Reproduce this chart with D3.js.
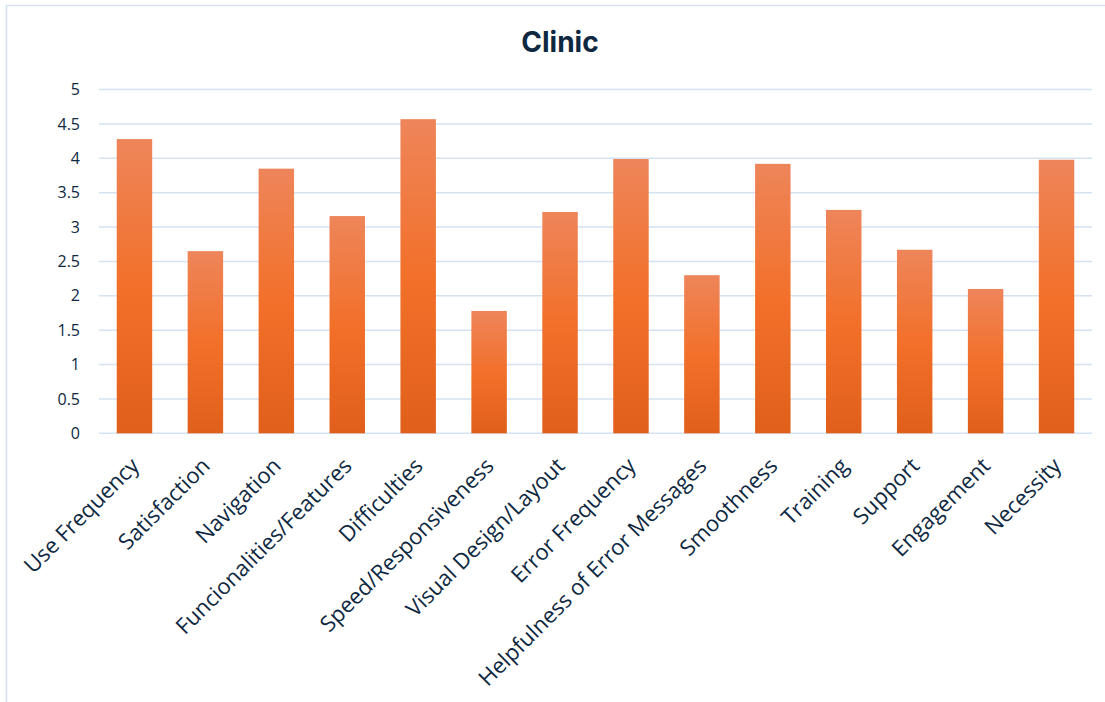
<!DOCTYPE html>
<html>
<head>
<meta charset="utf-8">
<script src="https://cdn.jsdelivr.net/npm/d3@7"></script>
<style>
  html, body { margin: 0; padding: 0; background: #fff; }
  svg { display: block; }
</style>
</head>
<body>
<svg id="chart" width="1105" height="702"></svg>
<script>
const categories = ["Use Frequency", "Satisfaction", "Navigation", "Funcionalities/Features", "Difficulties",
  "Speed/Responsiveness", "Visual Design/Layout", "Error Frequency", "Helpfulness of Error Messages",
  "Smoothness", "Training", "Support", "Engagement", "Necessity"];
const values = [4.28, 2.65, 3.85, 3.16, 4.57, 1.78, 3.22, 3.99, 2.30, 3.92, 3.25, 2.67, 2.10, 3.98];
const yTicks = [0, 0.5, 1, 1.5, 2, 2.5, 3, 3.5, 4, 4.5, 5];
const title = "Clinic";

const svg = d3.select("#chart");
const m = { left: 99, right: 1092, top: 89.6, bottom: 433.3 };
const textColor = "#0e2841";

// chart frame (only top & left visible in reference)
svg.append("rect").attr("x", 6.5).attr("y", 5.5).attr("width", 1110).attr("height", 710)
  .attr("fill", "#fff").attr("stroke", "#d6e2f0").attr("stroke-width", 1.5);

const defs = svg.append("defs");
const grad = defs.append("linearGradient").attr("id", "barGrad")
  .attr("x1", 0).attr("y1", 0).attr("x2", 0).attr("y2", 1);
grad.append("stop").attr("offset", "0%").attr("stop-color", "#ee855a");
grad.append("stop").attr("offset", "50%").attr("stop-color", "#f2702a");
grad.append("stop").attr("offset", "100%").attr("stop-color", "#e05f1a");

const x = d3.scaleBand().domain(categories).range([m.left, m.right]).paddingInner(0.5).paddingOuter(0.25);
const y = d3.scaleLinear().domain([0, 5]).range([m.bottom, m.top]);

// gridlines
svg.append("g").selectAll("line").data(yTicks).join("line")
  .attr("x1", m.left).attr("x2", m.right)
  .attr("y1", d => y(d)).attr("y2", d => y(d))
  .attr("stroke", "#d4e2f2").attr("stroke-width", 1.5);

// y axis labels
const yAxis = d3.axisLeft(y).tickValues(yTicks).tickSize(0).tickPadding(19).tickFormat(d => String(d));
const gy = svg.append("g").attr("transform", `translate(${m.left},0)`).call(yAxis);
gy.select(".domain").remove();
gy.selectAll("text").attr("fill", textColor).attr("font-family", "'Open Sans', sans-serif").attr("font-size", 16);

// bars
svg.append("g").selectAll("rect").data(values).join("rect")
  .attr("x", (d, i) => x(categories[i]))
  .attr("width", x.bandwidth())
  .attr("y", d => y(d))
  .attr("height", d => y(0) - y(d))
  .attr("fill", "url(#barGrad)");

// x axis labels
const xAxis = d3.axisBottom(x).tickSize(0).tickPadding(0);
const gx = svg.append("g").attr("transform", `translate(0,${m.bottom})`).call(xAxis);
gx.select(".domain").remove();
gx.selectAll(".tick text")
  .attr("fill", textColor).attr("font-family", "'Open Sans', sans-serif").attr("font-size", 22)
  .attr("text-anchor", "end")
  .attr("dy", "0")
  .attr("y", 0)
  .attr("transform", "translate(6,34) rotate(-45)");

// title
svg.append("text").attr("x", 560).attr("y", 52).attr("text-anchor", "middle")
  .attr("fill", textColor).attr("font-family", "Inter, sans-serif").attr("font-weight", "bold")
  .attr("font-size", 28).text(title);
</script>
</body>
</html>
